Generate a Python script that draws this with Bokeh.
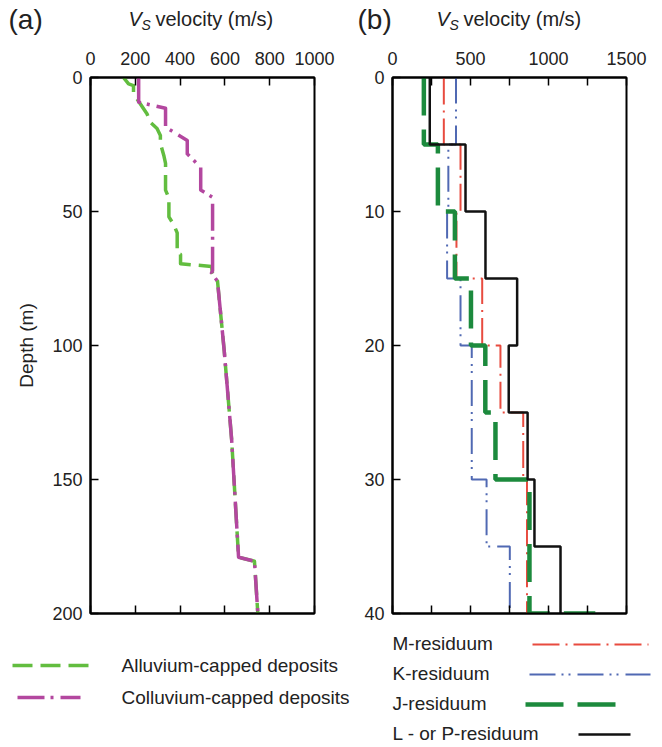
from bokeh.plotting import figure
from bokeh.layouts import row, column
from bokeh.models import Range1d, FixedTicker, LinearAxis
from bokeh.core.properties import value
from bokeh.embed import file_html
from bokeh.resources import INLINE

# ---- (a) shear-wave velocity profiles by capping deposit ----
alluvium_vs = [147, 170, 192, 192, 222, 252, 267, 297, 312, 312, 327, 335, 335, 350,
               350, 372, 387, 387, 402, 402, 540, 545, 567, 597, 630, 661, 732, 747]
alluvium_depth = [0, 2.4, 3, 6, 9.8, 13.5, 16.7, 19, 21.6, 24.6, 29, 32, 42, 45,
                  52, 55, 58, 65.5, 66, 69.5, 70.5, 73, 76, 102, 135, 179, 180.5, 200]

colluvium_vs = [215, 215, 335, 335, 432, 432, 492, 492, 545, 545, 540, 567, 597,
                630, 661, 732, 747]
colluvium_depth = [0, 9.2, 11.5, 18.5, 23.5, 28.5, 33.5, 42, 44.7, 72, 73, 76, 102,
                   135, 179, 180.5, 200]

# ---- (b) layered velocity models by residuum unit (5 m layers) ----
layer_tops = [0, 5, 10, 15, 20, 25, 30, 35]
layer_base = 40
m_vs = [329, 436, 410, 575, 692, 838, 862, 862]
k_vs = [407, 358, 350, 436, 508, 508, 603, 752]
j_vs = [201, 291, 400, 503, 595, 660, 878, 878]
lp_vs = [239, 468, 596, 799, 745, 866, 910, 1077]
j_vs_next = 1300  # J-residuum layer beneath the plotted depth

a_ticks_x = [0, 200, 400, 600, 800, 1000]
a_ticks_y = [0, 50, 100, 150, 200]
b_ticks_x = [0, 500, 1000, 1500]
b_minor_x = [250, 750, 1250]
b_ticks_y = [0, 10, 20, 30, 40]

a_names = ["Alluvium-capped deposits", "Colluvium-capped deposits"]
b_names = ["M-residuum", "K-residuum", "J-residuum", "L - or P-residuum"]

FONT = "Liberation Sans"
TXT = "#222222"

# line styles shared by the profiles and their legend keys
STY = {
    "alluvium": dict(line_color="#62bd3f", line_width=3.5, line_dash="20 8"),
    "colluvium": dict(line_color="#b3479f", line_width=3.5, line_dash="27 6 3 7"),
    "M": dict(line_color="#e84b3f", line_width=2, line_dash="27 6 2 6"),
    "K": dict(line_color="#5069b3", line_width=2, line_dash="26 6 2 5 2 7"),
    "J": dict(line_color="#1c8a3d", line_width=4.5, line_dash="38 14"),
    "LP": dict(line_color="#111111", line_width=2.5),
}

PAGE_W = 662
TOP_H = 40        # strip holding the panel letters and axis titles
PANEL_H = 585     # panel figures
LEG_H = 122       # strip holding the legends
LEG_Y0 = TOP_H + PANEL_H


def step_profile(tops, base, vs):
    bounds = list(tops) + [base]
    xs, ys = [], []
    for i, v in enumerate(vs):
        xs += [v, v]
        ys += [bounds[i], bounds[i + 1]]
    return xs, ys


def style_axis(ax, size="18px"):
    ax.axis_line_width = 2
    ax.axis_line_color = "black"
    ax.major_tick_in = 8
    ax.major_tick_out = 0
    ax.major_tick_line_width = 1.5
    ax.minor_tick_in = 0
    ax.minor_tick_out = 0
    ax.major_label_text_font = FONT
    ax.major_label_text_font_size = size
    ax.major_label_text_color = TXT
    ax.major_label_standoff = 13


def hidden_label_axis(ticks, minor=None):
    ax = LinearAxis(ticker=FixedTicker(ticks=ticks, minor_ticks=minor or []),
                    major_label_overrides={t: "" for t in ticks})
    style_axis(ax)
    ax.major_label_text_font_size = "0px"
    ax.major_label_standoff = 0
    return ax


def panel_fig(width, xr, yr, left, right):
    p = figure(width=width, height=PANEL_H, x_range=xr, y_range=yr,
               x_axis_location="above", output_backend="svg",
               toolbar_location=None, min_border_left=left,
               min_border_right=right, min_border_top=77 - TOP_H, min_border_bottom=12)
    p.grid.visible = False
    p.outline_line_color = "black"
    p.outline_line_width = 2
    p.background_fill_color = "white"
    p.border_fill_color = "white"
    return p


def strip_fig(height, y0):
    # plain canvas in page pixel coordinates (y grows downward)
    p = figure(width=PAGE_W, height=height, x_range=Range1d(0, PAGE_W),
               y_range=Range1d(y0 + height, y0), x_axis_type=None, y_axis_type=None,
               output_backend="svg", toolbar_location=None, min_border=0)
    p.grid.visible = False
    p.outline_line_color = None
    p.background_fill_color = "white"
    p.border_fill_color = "white"
    return p


def put_text(p, x, y, text, size, style="normal"):
    p.text(x=[x], y=[y], text=[text], text_font=value(FONT),
           text_font_size=value(size), text_font_style=style,
           text_align="left", text_baseline="middle", text_color=TXT)


# ================= title strip =================
top = strip_fig(TOP_H, 0)
for tag, tag_x, v_x in [("(a)", 8, 128), ("(b)", 357, 436)]:
    put_text(top, tag_x, 19, tag, "28px")
    put_text(top, v_x, 18, "V", "20px", "italic")
    put_text(top, v_x + 13, 24, "S", "14px", "italic")
    put_text(top, v_x + 27, 18, "velocity (m/s)", "20px")

# ================= panel (a) =================
pa = panel_fig(356, Range1d(0, 1000), Range1d(200, 0), 90, 42)
pa.line(alluvium_vs, alluvium_depth, line_join="round", **STY["alluvium"])
pa.line(colluvium_vs, colluvium_depth, line_join="round", **STY["colluvium"])

pa.xaxis.ticker = FixedTicker(ticks=a_ticks_x)
pa.yaxis.ticker = FixedTicker(ticks=a_ticks_y)
style_axis(pa.xaxis[0])
style_axis(pa.yaxis[0])
pa.yaxis.major_label_standoff = 8
pa.yaxis.axis_label = "Depth (m)"
pa.yaxis.axis_label_text_font = FONT
pa.yaxis.axis_label_text_font_size = "19px"
pa.yaxis.axis_label_text_font_style = "normal"
pa.yaxis.axis_label_text_color = TXT
pa.yaxis.axis_label_standoff = 12
pa.add_layout(hidden_label_axis(a_ticks_x), "below")

# ================= panel (b) =================
pb = panel_fig(306, Range1d(0, 1500), Range1d(40, 0), 36, 36)

mx, my = step_profile(layer_tops, layer_base, m_vs)
kx, ky = step_profile(layer_tops, layer_base, k_vs)
jx, jy = step_profile(layer_tops, layer_base, j_vs)
jx.append(j_vs_next)
jy.append(layer_base)
lx, ly = step_profile(layer_tops, layer_base, lp_vs)

pb.line(mx, my, **STY["M"])
pb.line(kx, ky, **STY["K"])
pb.line(jx, jy, **STY["J"])
pb.line(lx, ly, **STY["LP"])

pb.xaxis.ticker = FixedTicker(ticks=b_ticks_x, minor_ticks=b_minor_x)
pb.yaxis.ticker = FixedTicker(ticks=b_ticks_y)
style_axis(pb.xaxis[0])
pb.xaxis.minor_tick_in = 8
pb.xaxis.minor_tick_line_width = 1.5
style_axis(pb.yaxis[0])
pb.yaxis.major_label_standoff = 8
b_bottom = hidden_label_axis(b_ticks_x, b_minor_x)
b_bottom.minor_tick_in = 8
b_bottom.minor_tick_line_width = 1.5
pb.add_layout(b_bottom, "below")

# ================= legend strip =================
leg = strip_fig(LEG_H, LEG_Y0)

# (a): key on the left, label on the right
for name, key, (x0, x1), y in zip(a_names, ["alluvium", "colluvium"],
                                  [(12, 88), (17, 80)], [665, 697]):
    leg.line([x0, x1], [y, y], **STY[key])
    put_text(leg, 121, y, name, "19px")

# (b): label on the left, key on the right
for name, key, (x0, x1), y in zip(b_names, ["M", "K", "J", "LP"],
                                  [(532, 648), (529, 650), (525, 618), (578, 630)],
                                  [643, 673, 703, 733]):
    put_text(leg, 392, y, name, "19px")
    leg.line([x0, x1], [y + 1, y + 1], **STY[key])

layout = column(top, row(pa, pb), leg)
open("out.html", "w").write(file_html(layout, INLINE))
